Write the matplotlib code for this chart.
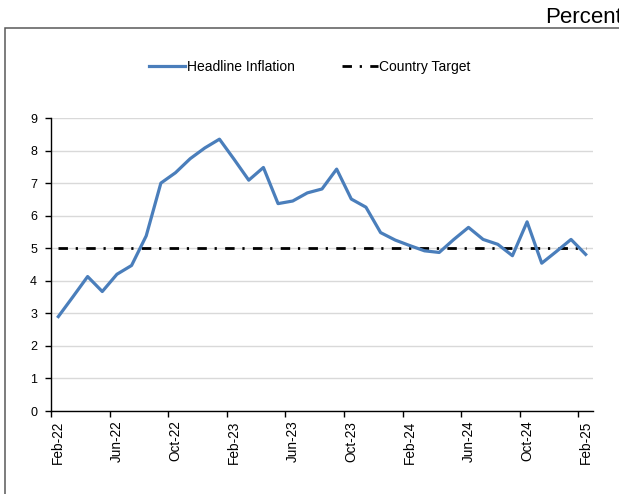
import matplotlib
matplotlib.use("Agg")
import matplotlib.pyplot as plt
from matplotlib.patches import Rectangle

plt.rcParams['font.family'] = ['Liberation Sans', 'DejaVu Sans']

months = ["Feb-22", "Mar-22", "Apr-22", "May-22", "Jun-22", "Jul-22", "Aug-22", "Sep-22",
          "Oct-22", "Nov-22", "Dec-22", "Jan-23", "Feb-23", "Mar-23", "Apr-23", "May-23",
          "Jun-23", "Jul-23", "Aug-23", "Sep-23", "Oct-23", "Nov-23", "Dec-23", "Jan-24",
          "Feb-24", "Mar-24", "Apr-24", "May-24", "Jun-24", "Jul-24", "Aug-24", "Sep-24",
          "Oct-24", "Nov-24", "Dec-24", "Jan-25", "Feb-25"]
headline = [2.90, 3.51, 4.13, 3.67, 4.20, 4.47, 5.38, 7.00, 7.32, 7.75, 8.08, 8.35,
            7.73, 7.09, 7.48, 6.37, 6.45, 6.70, 6.82, 7.43, 6.51, 6.26, 5.48, 5.25,
            5.08, 4.92, 4.87, 5.27, 5.64, 5.27, 5.12, 4.77, 5.81, 4.54, 4.90, 5.27, 4.81]
target = [5.0] * len(months)
yticks = list(range(0, 10))

W, H = 619, 494
fig = plt.figure(figsize=(W / 100, H / 100), dpi=100)

# outer frame
fig.patches.append(Rectangle((4.7 / W, -0.05), 1.0, 1 - 28 / H + 0.05,
                             transform=fig.transFigure, fill=False,
                             edgecolor='#595959', linewidth=1.1))
fig.text(545 / W, 1 - 22.7 / H, "Percent", fontsize=16, ha='left', va='baseline')

ax = fig.add_axes([51 / W, 1 - 411 / H, (593 - 51) / W, (411 - 118) / H])
x = list(range(len(months)))
ax.plot(x, headline, color='#4a7ebb', lw=2.3, label='Headline Inflation', zorder=3)
ax.plot(x, target, color='black', lw=2.0, linestyle=(0, (3.4, 2.8, 0.8, 3.0)),
        label='Country Target', zorder=2)

ax.set_xlim(-0.5, len(months) - 0.5)
ax.set_ylim(0, 9)
ax.set_yticks(yticks)
ax.set_yticklabels([str(v) for v in yticks], fontsize=9)
ax.yaxis.grid(True, color='#d9d9d9', lw=1.0)
ax.set_axisbelow(True)

lab_idx = list(range(0, len(months), 4))
ax.set_xticks(lab_idx)
ax.set_xticklabels([months[i] for i in lab_idx], rotation=90, fontsize=9.8)
ax.tick_params(axis='x', length=0, pad=7)
ax.set_xticks([i - 0.5 for i in lab_idx], minor=True)
ax.tick_params(axis='x', which='minor', length=4, width=1, color='black', direction='out')
ax.tick_params(axis='y', length=4, width=1, direction='out', pad=6)

for s in ['top', 'right']:
    ax.spines[s].set_visible(False)
for s in ['left', 'bottom']:
    ax.spines[s].set_color('black')
    ax.spines[s].set_linewidth(1.0)

fig.legend(loc='center', bbox_to_anchor=(310 / W, 1 - 67 / H), ncol=2, frameon=False,
           fontsize=10, handlelength=2.6, handletextpad=0.1, columnspacing=3.4)

fig.savefig("out.png", dpi=100)
